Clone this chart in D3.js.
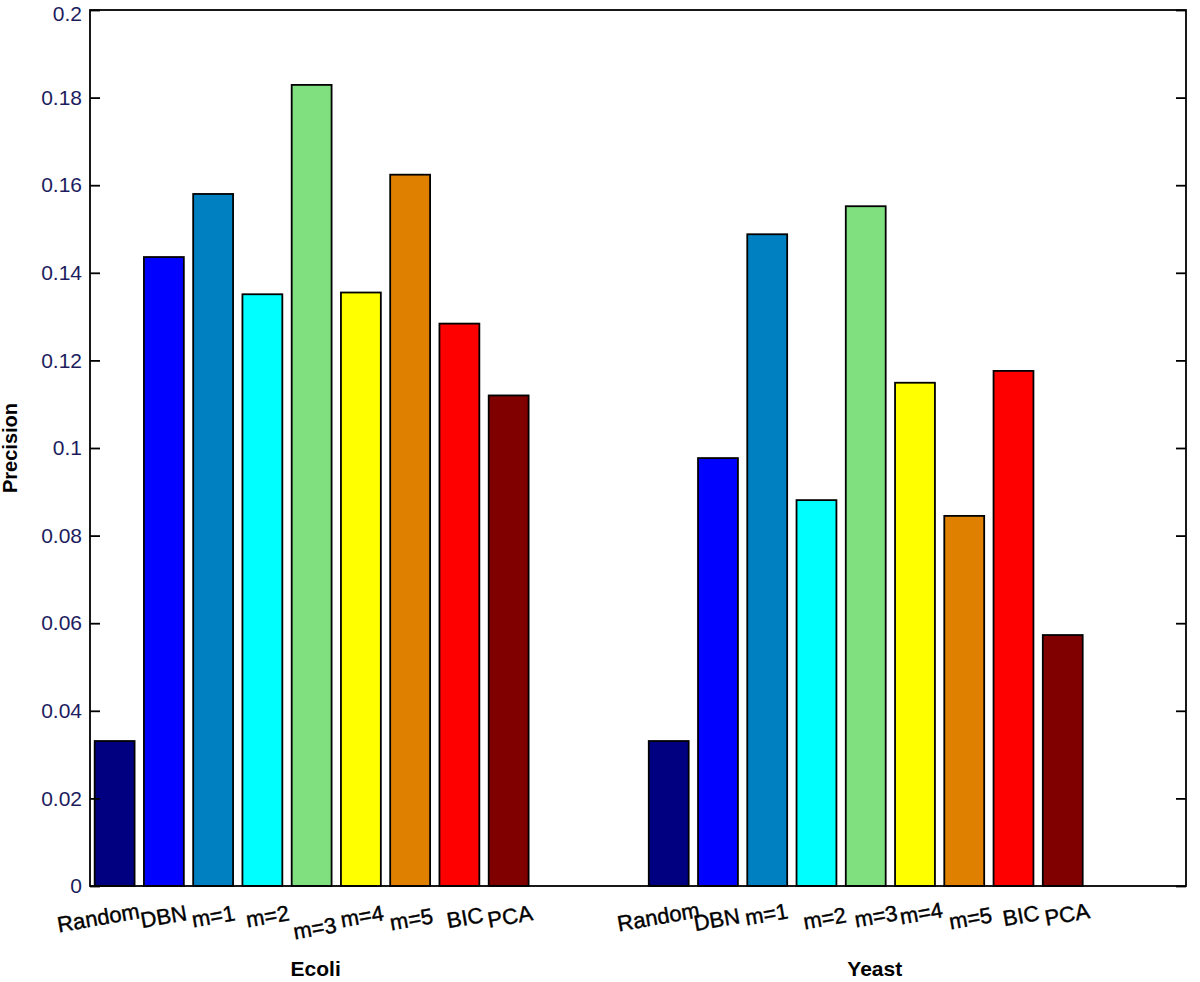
<!DOCTYPE html>
<html>
<head>
<meta charset="utf-8">
<script src="https://cdn.jsdelivr.net/npm/d3@7"></script>
<style>
html,body{margin:0;padding:0;background:#fff;}
svg{display:block;}
</style>
</head>
<body>
<svg id="chart" width="1200" height="982"></svg>
<script>
// ---- data ----
const groups = ["Ecoli", "Yeast"];
const methods = ["Random", "DBN", "m=1", "m=2", "m=3", "m=4", "m=5", "BIC", "PCA"];
const ecoliValues = [0.0331, 0.1436, 0.1580, 0.1351, 0.1829, 0.1355, 0.1624, 0.1284, 0.1120];
const yeastValues = [0.0331, 0.0977, 0.1488, 0.0881, 0.1552, 0.1149, 0.0845, 0.1176, 0.0573];
const yTicks = [0, 0.02, 0.04, 0.06, 0.08, 0.1, 0.12, 0.14, 0.16, 0.18, 0.2];
const barColors = ["#000080", "#0000ff", "#0080c0", "#00ffff", "#80e080", "#ffff00", "#e08000", "#ff0000", "#800000"];

// layout constants for the staggered, rotated tick labels (from the reference)
const labelShiftX = [[6,4,3,8,6,4,4,5,5],[12,3,2,11,13,9,9,7,8]];
const labelShiftY = [[-2,0,0,0,12,0,3,2,0],[-3,3,-2,2,0,-3,2,0,-2]];

const seriesByGroup = [ecoliValues, yeastValues];

// ---- geometry ----
const L = 90, R = 1186, T = 10, B = 886;
const svg = d3.select("#chart");
const FONT = "Liberation Sans, Arial, sans-serif";

const y = d3.scaleLinear().domain([0, 0.2]).range([B, T]);
const x = d3.scaleLinear().domain([0.6, 2.578]).range([L, R]);
const unitPx = x(2) - x(1);
const inner = d3.scaleBand().domain(methods)
  .range([-0.4 * unitPx, 0.4 * unitPx])
  .paddingInner(0.19).paddingOuter(0.095);

// bars
groups.forEach((g, gi) => {
  const cx = x(gi + 1);
  const vals = seriesByGroup[gi];
  svg.append("g").selectAll("rect")
    .data(methods.map((m, i) => ({m, v: vals[i], i})))
    .join("rect")
    .attr("x", d => cx + inner(d.m))
    .attr("y", d => y(d.v))
    .attr("width", inner.bandwidth())
    .attr("height", d => y(0) - y(d.v))
    .attr("fill", d => barColors[d.i])
    .attr("stroke", "#000")
    .attr("stroke-width", 1.8);

  // rotated tick labels
  svg.append("g").selectAll("text")
    .data(methods.map((m, i) => ({m, i})))
    .join("text")
    .attr("transform", d => {
      const ex = cx + inner(d.m) + inner.bandwidth() + labelShiftX[gi][d.i];
      const ey = 920 + labelShiftY[gi][d.i];
      return `translate(${ex},${ey}) rotate(-10)`;
    })
    .attr("text-anchor", "end")
    .attr("font-family", FONT)
    .attr("font-size", 22)
    .attr("fill", "#000")
    .attr("stroke", "#000")
    .attr("stroke-width", 0.4)
    .text(d => d.m);

  // group label
  svg.append("text")
    .attr("x", cx + (gi === 0 ? 4 : 9))
    .attr("y", 976)
    .attr("text-anchor", "middle")
    .attr("font-family", FONT)
    .attr("font-size", 21)
    .attr("font-weight", "bold")
    .attr("fill", "#000")
    .text(g);
});

// axes
const yAxisL = d3.axisLeft(y).tickValues(yTicks).tickSizeInner(-10).tickSizeOuter(0).tickPadding(8)
  .tickFormat(d => d === 0 ? "0" : String(+d.toFixed(2)));
const gL = svg.append("g").attr("transform", `translate(${L},0)`).call(yAxisL);
gL.select(".domain").remove();
gL.selectAll(".tick line").attr("stroke", "#000").attr("stroke-width", 1.8);
gL.selectAll(".tick text")
  .attr("font-family", FONT)
  .attr("font-size", 21)
  .attr("fill", "#1c1c5e");
// keep the top label inside the page
gL.selectAll(".tick text").filter(d => d === 0.2).attr("dy", "0.5em");

const yAxisR = d3.axisRight(y).tickValues(yTicks).tickSizeInner(-10).tickSizeOuter(0).tickFormat("");
const gR = svg.append("g").attr("transform", `translate(${R},0)`).call(yAxisR);
gR.select(".domain").remove();
gR.selectAll(".tick line").attr("stroke", "#000").attr("stroke-width", 1.8);

// box
svg.append("rect")
  .attr("x", L).attr("y", T).attr("width", R - L).attr("height", B - T)
  .attr("fill", "none").attr("stroke", "#000").attr("stroke-width", 1.8);

// y label
svg.append("text")
  .attr("transform", `translate(17,448) rotate(-90)`)
  .attr("text-anchor", "middle")
  .attr("font-family", FONT)
  .attr("font-size", 20)
  .attr("font-weight", "bold")
  .attr("fill", "#000")
  .text("Precision");
</script>
</body>
</html>
